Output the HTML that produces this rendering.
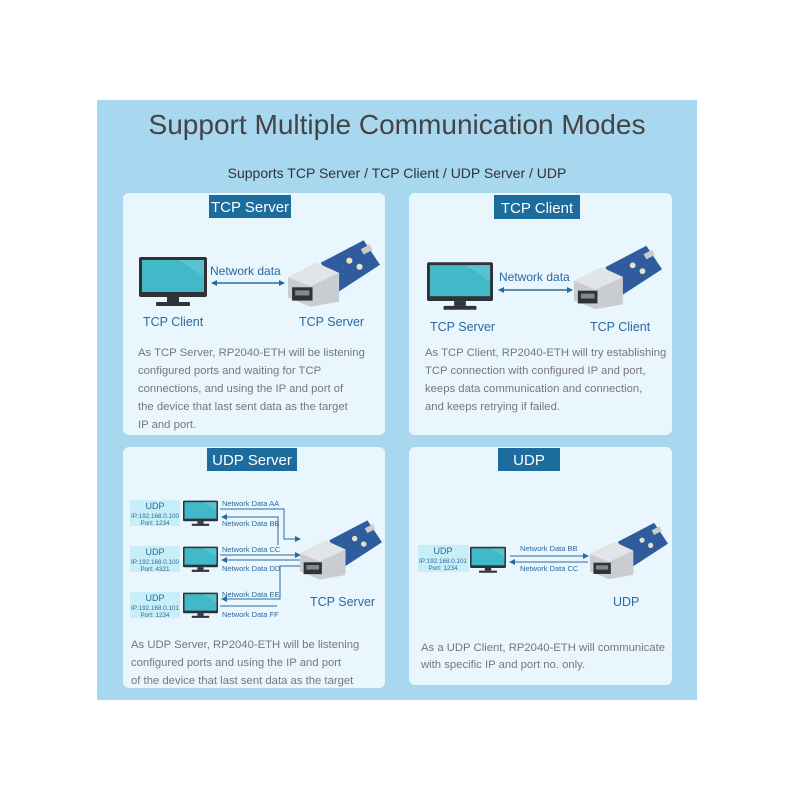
<!DOCTYPE html>
<html><head><meta charset="utf-8"><style>
html,body{margin:0;padding:0;background:#fff;width:800px;height:800px;overflow:hidden}
svg{display:block;font-family:"Liberation Sans",sans-serif}
</style></head><body>
<svg width="800" height="800" viewBox="0 0 800 800">
<defs>
<symbol id="mon" viewBox="0 0 68 50">
<rect x="0" y="0" width="68" height="40" rx="2" fill="#2f3236"/>
<rect x="3" y="3" width="62" height="32" fill="#41b9c8"/>
<path d="M40 3 L65 3 L65 20 Z" fill="#6fcbd6" opacity="0.5"/>
<rect x="28" y="40" width="12" height="5" fill="#2f3236"/>
<rect x="17" y="45" width="34" height="4" rx="1" fill="#2f3236"/>
</symbol>
<symbol id="brd" viewBox="0 0 90 65">
<polygon points="32,22 74,0 90,24 50,50" fill="#2e5c9c"/>
<circle cx="60" cy="20" r="3" fill="#e8e0c8"/><circle cx="70" cy="26" r="3" fill="#e8e0c8"/>
<rect x="72" y="6" width="10" height="6" fill="#ccc" transform="rotate(-28 77 9)"/>
<polygon points="0,36 28,22 50,32 50,60 22,65 0,56" fill="#c9cdd1"/>
<polygon points="0,36 28,22 50,32 22,45" fill="#e2e5e8"/>
<rect x="4" y="46" width="20" height="13" fill="#2f3236"/>
<rect x="7" y="49" width="14" height="5" fill="#888"/>
</symbol>
<marker id="ah" markerWidth="6" markerHeight="6" refX="5" refY="3" orient="auto-start-reverse" markerUnits="userSpaceOnUse"><path d="M0,0 L6,3 L0,6 Z" fill="#2a6aa0"/></marker>
</defs>
<rect x="97" y="100" width="600" height="600" fill="#a8d7f0"/>
<text x="397" y="134" text-anchor="middle" font-size="28" fill="#444" textLength="497" lengthAdjust="spacingAndGlyphs">Support Multiple Communication Modes</text>
<text x="397" y="178" text-anchor="middle" font-size="14" fill="#333">Supports TCP Server / TCP Client / UDP Server / UDP</text>

<rect x="123" y="193" width="262" height="242" rx="6" fill="#eaf6fd"/>
<rect x="409" y="193" width="263" height="242" rx="6" fill="#eaf6fd"/>
<rect x="123" y="447" width="262" height="241" rx="6" fill="#eaf6fd"/>
<rect x="409" y="447" width="263" height="238" rx="6" fill="#eaf6fd"/>

<rect x="209" y="195" width="82" height="23" fill="#1d6c9e"/>
<text x="250" y="212" text-anchor="middle" font-size="15" fill="#fff">TCP Server</text>
<rect x="494" y="195" width="86" height="24" fill="#1d6c9e"/>
<text x="537" y="213" text-anchor="middle" font-size="15" fill="#fff">TCP Client</text>
<rect x="207" y="448" width="90" height="23" fill="#1d6c9e"/>
<text x="252" y="465" text-anchor="middle" font-size="15" fill="#fff">UDP Server</text>
<rect x="498" y="448" width="62" height="23" fill="#1d6c9e"/>
<text x="529" y="465" text-anchor="middle" font-size="15" fill="#fff">UDP</text>

<!-- TCP Server card -->
<use href="#mon" x="139" y="257" width="68" height="50"/>
<line x1="212" y1="283" x2="284" y2="283" stroke="#2a6aa0" stroke-width="1.5" marker-start="url(#ah)" marker-end="url(#ah)"/>
<text x="210" y="275" font-size="12" fill="#2a6aa0">Network data</text>
<use href="#brd" x="288" y="240" width="92" height="67"/>
<text x="143" y="326" font-size="12.5" fill="#2a6aa0">TCP Client</text>
<text x="299" y="326" font-size="12.5" fill="#2a6aa0">TCP Server</text>
<g font-size="11.3" fill="#777">
<text x="138" y="356">As TCP Server, RP2040-ETH will be listening</text>
<text x="138" y="374">configured ports and waiting for TCP</text>
<text x="138" y="392">connections, and using the IP and port of</text>
<text x="138" y="410">the device that last sent data as the target</text>
<text x="138" y="428">IP and port.</text>
</g>

<!-- TCP Client card -->
<use href="#mon" x="427" y="262" width="66" height="49"/>
<line x1="499" y1="290" x2="572" y2="290" stroke="#2a6aa0" stroke-width="1.5" marker-start="url(#ah)" marker-end="url(#ah)"/>
<text x="499" y="281" font-size="12" fill="#2a6aa0">Network data</text>
<use href="#brd" x="574" y="245" width="88" height="65"/>
<text x="430" y="331" font-size="12.5" fill="#2a6aa0">TCP Server</text>
<text x="590" y="331" font-size="12.5" fill="#2a6aa0">TCP Client</text>
<g font-size="11.3" fill="#777">
<text x="425" y="356">As TCP Client, RP2040-ETH will try establishing</text>
<text x="425" y="374">TCP connection with configured IP and port,</text>
<text x="425" y="392">keeps data communication and connection,</text>
<text x="425" y="410">and keeps retrying if failed.</text>
</g>

<!-- UDP Server card -->
<g font-size="6.3" fill="#2a6aa0" text-anchor="middle">
<rect x="130" y="500" width="50" height="26" fill="#c8eef7"/>
<text x="155" y="509" font-size="9">UDP</text><text x="155" y="518">IP:192.168.0.100</text><text x="155" y="525">Port: 1234</text>
<rect x="130" y="546" width="50" height="26" fill="#c8eef7"/>
<text x="155" y="555" font-size="9">UDP</text><text x="155" y="564">IP:192.168.0.100</text><text x="155" y="571">Port: 4321</text>
<rect x="130" y="592" width="50" height="26" fill="#c8eef7"/>
<text x="155" y="601" font-size="9">UDP</text><text x="155" y="610">IP:192.168.0.101</text><text x="155" y="617">Port: 1234</text>
</g>
<use href="#mon" x="183" y="500" width="35" height="27"/>
<use href="#mon" x="183" y="546" width="35" height="27"/>
<use href="#mon" x="183" y="592" width="35" height="27"/>
<g stroke="#2a6aa0" stroke-width="1" fill="none">
<path d="M220 509 H284 V539 H300" marker-end="url(#ah)"/>
<path d="M278 545 V517 H222" marker-end="url(#ah)"/>
<path d="M220 555 H300" marker-end="url(#ah)"/>
<path d="M300 560 H222" marker-end="url(#ah)"/>
<path d="M300 566 H280 V599 H222" marker-end="url(#ah)"/>
<path d="M220 606 H277"/>
</g>
<g font-size="7.5" fill="#2a6aa0">
<text x="222" y="506">Network Data AA</text><text x="222" y="526">Network Data BB</text>
<text x="222" y="552">Network Data CC</text><text x="222" y="571">Network Data DD</text>
<text x="222" y="597">Network Data EE</text><text x="222" y="617">Network Data FF</text>
</g>
<use href="#brd" x="300" y="520" width="82" height="60"/>
<text x="310" y="606" font-size="12.5" fill="#2a6aa0">TCP Server</text>
<g font-size="11.3" fill="#777">
<text x="131" y="648">As UDP Server, RP2040-ETH will be listening</text>
<text x="131" y="666">configured ports and using the IP and port</text>
<text x="131" y="684">of the device that last sent data as the target</text>
</g>
<rect x="97" y="688" width="600" height="12" fill="#a8d7f0"/>

<!-- UDP card -->
<rect x="418" y="545" width="51" height="27" fill="#c8eef7"/>
<g font-size="6.3" fill="#2a6aa0" text-anchor="middle">
<text x="443" y="554" font-size="9">UDP</text><text x="443" y="563">IP:192.168.0.101</text><text x="443" y="570">Port: 1234</text>
</g>
<use href="#mon" x="470" y="546" width="36" height="28"/>
<line x1="510" y1="556" x2="588" y2="556" stroke="#2a6aa0" stroke-width="1" marker-end="url(#ah)"/>
<line x1="588" y1="562" x2="510" y2="562" stroke="#2a6aa0" stroke-width="1" marker-end="url(#ah)"/>
<g font-size="7.5" fill="#2a6aa0">
<text x="520" y="551">Network Data BB</text><text x="520" y="571">Network Data CC</text>
</g>
<use href="#brd" x="590" y="520" width="78" height="62"/>
<text x="613" y="606" font-size="12.5" fill="#2a6aa0">UDP</text>
<g font-size="11.3" fill="#777">
<text x="421" y="651">As a UDP Client, RP2040-ETH will communicate</text>
<text x="421" y="668">with specific IP and port no. only.</text>
</g>
</svg>
</body></html>
